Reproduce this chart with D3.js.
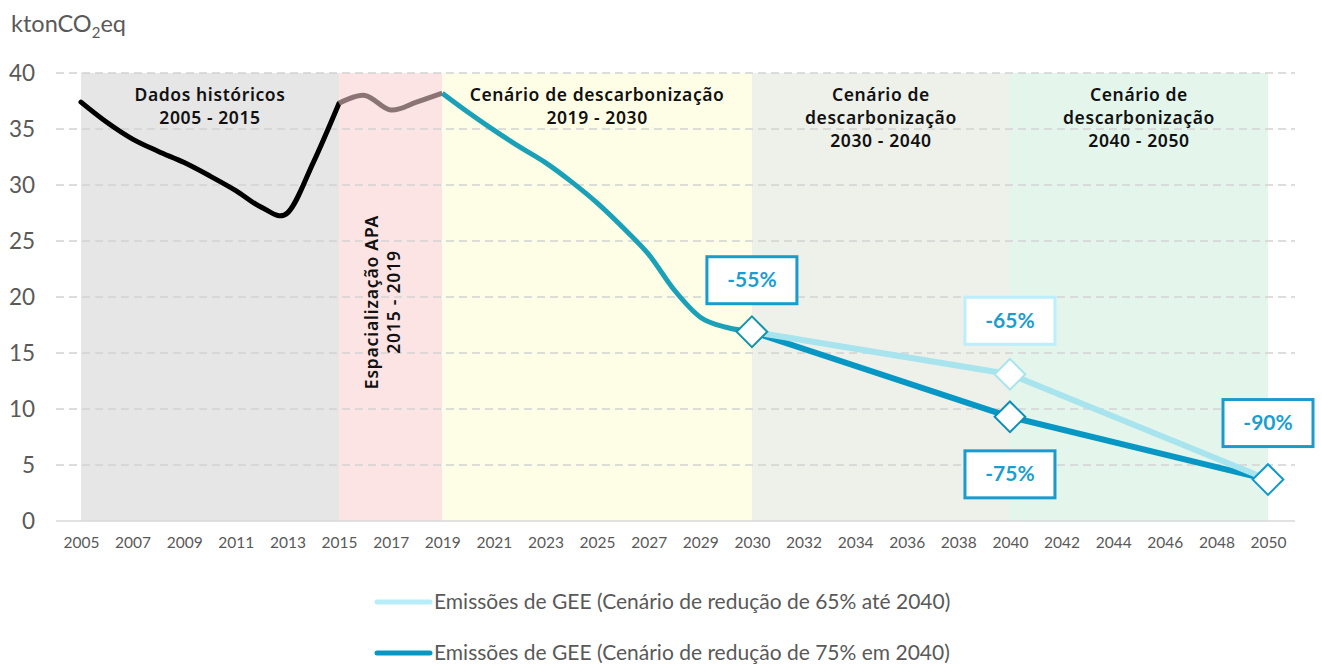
<!DOCTYPE html>
<html lang="pt">
<head>
<meta charset="utf-8">
<title>Emissões de GEE</title>
<script src="https://cdn.jsdelivr.net/npm/d3@7"></script>
<style>
  html, body { margin: 0; padding: 0; background: #ffffff; }
  svg { display: block; }
</style>
</head>
<body>
<svg id="chart" width="1322" height="665"></svg>
<script>
// Category axis: one slot per year, with 2030 appearing twice (end of one period, start of the next)
const years = [
  2005, 2006, 2007, 2008, 2009, 2010, 2011, 2012, 2013, 2014, 2015,
  2016, 2017, 2018, 2019, 2020, 2021, 2022, 2023, 2024, 2025, 2026,
  2027, 2028, 2029, 2030, 2030, 2031, 2032, 2033, 2034, 2035, 2036,
  2037, 2038, 2039, 2040, 2041, 2042, 2043, 2044, 2045, 2046, 2047,
  2048, 2049, 2050
];
const yTicks = [0, 5, 10, 15, 20, 25, 30, 35, 40];

// Historical emissions 2005–2015 (ktonCO2eq)
const historico = [37.4, 35.6, 34.1, 33.0, 32.0, 30.8, 29.5, 28.0, 27.5, 32.0, 37.3];
const historicoStart = 0;
// APA spatialisation 2015–2019
const espacializacao = [37.3, 38.0, 36.7, 37.4, 38.2];
const espacializacaoStart = 10;
// Decarbonisation scenario 2019–2030
const cenario2030 = [38.2, 36.5, 34.9, 33.4, 32.0, 30.3, 28.4, 26.2, 23.8, 20.6, 18.2, 17.3, 16.9];
const cenario2030Start = 14;
// Scenario lines 2030 → 2040 → 2050 (slot indices and values)
const cenarioSlots = [26, 36, 46];
const cenario65 = [16.9, 13.1, 3.7];
const cenario75 = [16.9, 9.3, 3.7];

// Period bands (slot index ranges)
const periodos = [
  { from: 0,  to: 10, fill: "#e6e6e6" },
  { from: 10, to: 14, fill: "#fde4e4" },
  { from: 14, to: 26, fill: "#fefee6" },
  { from: 26, to: 36, fill: "#eef0ea" },
  { from: 36, to: 46, fill: "#e4f5ec" }
];
const periodoTitulos = [
  { center: 5,  lines: ["Dados históricos", "2005 - 2015"] },
  { center: 20, lines: ["Cenário de descarbonização", "2019 - 2030"] },
  { center: 31, lines: ["Cenário de", "descarbonização", "2030 - 2040"] },
  { center: 41, lines: ["Cenário de", "descarbonização", "2040 - 2050"] }
];
const legendaItens = [
  "Emissões de GEE (Cenário de redução de 65% até 2040)",
  "Emissões de GEE (Cenário de redução de 75% em 2040)"
];

const svg = d3.select("#chart");
const plotLeft = 56, plotRight = 1295;
const x = d3.scaleLinear().domain([0, years.length - 1]).range([81, 1268]);
const y = d3.scaleLinear().domain([0, 40]).range([521, 73]);

const axisGrey = "#595959";
const annoFont = "'Noto Sans', sans-serif";

// Period bands
svg.append("g").selectAll("rect").data(periodos).join("rect")
  .attr("x", d => x(d.from))
  .attr("y", y(40))
  .attr("width", d => x(d.to) - x(d.from))
  .attr("height", y(0) - y(40))
  .attr("fill", d => d.fill);

// Horizontal dashed gridlines
svg.append("g").selectAll("line").data(yTicks.filter(v => v > 0)).join("line")
  .attr("x1", plotLeft).attr("x2", plotRight)
  .attr("y1", d => y(d)).attr("y2", d => y(d))
  .attr("stroke", "#d2d2d2")
  .attr("stroke-width", 1.5)
  .attr("stroke-dasharray", "8,5");

// Baseline
svg.append("line")
  .attr("x1", plotLeft).attr("x2", plotRight)
  .attr("y1", y(0)).attr("y2", y(0))
  .attr("stroke", "#d9d9d9").attr("stroke-width", 1.5);

// Y axis labels
const yAxis = svg.append("g")
  .attr("transform", "translate(35,0)")
  .call(d3.axisLeft(y).tickValues(yTicks).tickSize(0).tickPadding(0));
yAxis.select(".domain").remove();
yAxis.selectAll("text")
  .attr("font-family", "Lato, sans-serif")
  .attr("font-size", 22.5)
  .attr("fill", axisGrey);

// X axis labels (every other slot)
const xAxis = svg.append("g")
  .attr("transform", `translate(0,${y(0)})`)
  .call(d3.axisBottom(x)
    .tickValues(d3.range(0, years.length, 2))
    .tickFormat(i => years[i])
    .tickSize(0).tickPadding(16));
xAxis.select(".domain").remove();
xAxis.selectAll("text")
  .attr("font-family", "Lato, sans-serif")
  .attr("font-size", 15.5)
  .attr("fill", axisGrey);

// Y axis unit title
const unit = svg.append("text")
  .attr("x", 11).attr("y", 32)
  .attr("font-family", "Lato, sans-serif")
  .attr("font-size", 23.5)
  .attr("fill", axisGrey);
unit.append("tspan").text("ktonCO");
unit.append("tspan").attr("font-size", 15).attr("dy", 6).text("2");
unit.append("tspan").attr("dy", -6).text("eq");

// Period titles
periodoTitulos.forEach(p => {
  const t = svg.append("text")
    .attr("text-anchor", "middle")
    .attr("font-family", annoFont)
    .attr("font-size", 17.5)
    .attr("font-weight", 600)
    .attr("letter-spacing", 0.6)
    .attr("fill", "#111111");
  p.lines.forEach((ln, i) => {
    t.append("tspan").attr("x", x(p.center)).attr("y", 101 + i * 23).text(ln);
  });
});
// Rotated title for the APA period
const apa = svg.append("text")
  .attr("transform", `translate(${x(12) - 9},302) rotate(-90)`)
  .attr("text-anchor", "middle")
  .attr("font-family", annoFont)
  .attr("font-size", 17.5)
  .attr("font-weight", 600)
  .attr("letter-spacing", 0.8)
  .attr("fill", "#111111");
apa.append("tspan").attr("x", 0).attr("y", -4).text("Espacialização APA");
apa.append("tspan").attr("x", 0).attr("y", 18).text("2015 - 2019");

// Lines
const smooth = d3.line()
  .x(d => x(d[0])).y(d => y(d[1]))
  .curve(d3.curveCardinal.tension(0));
const straight = d3.line()
  .x(d => x(d[0])).y(d => y(d[1]));

const seg = (vals, start) => vals.map((v, i) => [start + i, v]);

svg.append("path")
  .attr("d", smooth(seg(historico, historicoStart)))
  .attr("fill", "none").attr("stroke", "#000000")
  .attr("stroke-width", 5).attr("stroke-linejoin", "round").attr("stroke-linecap", "round");
svg.append("path")
  .attr("d", smooth(seg(espacializacao, espacializacaoStart)))
  .attr("fill", "none").attr("stroke", "#8b7474")
  .attr("stroke-width", 5).attr("stroke-linejoin", "round");
svg.append("path")
  .attr("d", smooth(seg(cenario2030, cenario2030Start)))
  .attr("fill", "none").attr("stroke", "#1aa1b8")
  .attr("stroke-width", 5).attr("stroke-linejoin", "round");

const s75 = cenarioSlots.map((s, i) => [s, cenario75[i]]);
const s65 = cenarioSlots.map((s, i) => [s, cenario65[i]]);
svg.append("path")
  .attr("d", straight(s75))
  .attr("fill", "none").attr("stroke", "#0797c4")
  .attr("stroke-width", 6).attr("stroke-linejoin", "round");
svg.append("path")
  .attr("d", straight(s65))
  .attr("fill", "none").attr("stroke", "#a8e4ed")
  .attr("stroke-width", 6).attr("stroke-linejoin", "round");

// Diamond markers and value callouts
const diamond = d3.symbol(d3.symbolSquare, 470);
const marcadores = [
  { slot: 26, value: cenario2030[cenario2030.length - 1], stroke: "#1593a9", label: "-55%", dy: -52, box: "#1a9bcb" },
  { slot: 36, value: cenario65[1], stroke: "#a8e4ed", label: "-65%", dy: -54, box: "#bdeefb" },
  { slot: 36, value: cenario75[1], stroke: "#0c8fb6", label: "-75%", dy: 57, box: "#1a9bcb" },
  { slot: 46, value: cenario75[2], stroke: "#1198cc", label: "-90%", dy: -57, box: "#1a9bcb" }
];
svg.append("g").selectAll("path").data(marcadores).join("path")
  .attr("d", diamond)
  .attr("transform", d => `translate(${x(d.slot)},${y(d.value)}) rotate(45)`)
  .attr("fill", "#ffffff")
  .attr("stroke", d => d.stroke)
  .attr("stroke-width", 2);

const callouts = svg.append("g").selectAll("g").data(marcadores).join("g")
  .attr("transform", d => `translate(${x(d.slot)},${y(d.value) + d.dy})`);
callouts.append("rect")
  .attr("x", -45).attr("y", -23).attr("width", 90).attr("height", 47)
  .attr("fill", "#ffffff")
  .attr("stroke", d => d.box)
  .attr("stroke-width", 3);
callouts.append("text")
  .attr("text-anchor", "middle")
  .attr("dy", "0.36em")
  .attr("font-family", "Lato, sans-serif")
  .attr("font-size", 21)
  .attr("font-weight", "bold")
  .attr("fill", "#1a9ed0")
  .text(d => d.label);

// Legend
const legenda = svg.append("g");
const legendColors = ["#b8eef9", "#0797c4"];
legendaItens.forEach((txt, i) => {
  const ly = 602 + i * 51;
  legenda.append("line")
    .attr("x1", 377).attr("x2", 430).attr("y1", ly).attr("y2", ly)
    .attr("stroke", legendColors[i]).attr("stroke-width", 5).attr("stroke-linecap", "round");
  legenda.append("text")
    .attr("x", 434).attr("y", ly).attr("dy", "0.35em")
    .attr("font-family", "Lato, sans-serif")
    .attr("font-size", 21)
    .attr("fill", axisGrey)
    .text(txt);
});
</script>
</body>
</html>
